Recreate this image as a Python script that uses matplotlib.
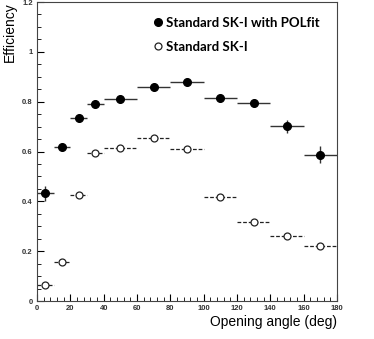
import numpy as np
import matplotlib.pyplot as plt
from matplotlib.lines import Line2D
from matplotlib.ticker import MultipleLocator

# angle bins (deg)
bin_lo = np.array([0, 10, 20, 30, 40, 60, 80, 100, 120, 140, 160])
bin_hi = np.array([10, 20, 30, 40, 60, 80, 100, 120, 140, 160, 180])

# Standard SK-I with POLfit
eff_pol = np.array([0.432, 0.618, 0.734, 0.790, 0.811, 0.858, 0.880, 0.814, 0.796, 0.701, 0.588])
err_pol = np.array([0.030, 0.008, 0.008, 0.010, 0.006, 0.006, 0.006, 0.008, 0.016, 0.026, 0.036])

# Standard SK-I
eff_std = np.array([0.064, 0.157, 0.426, 0.594, 0.616, 0.656, 0.609, 0.416, 0.316, 0.260, 0.221])

centers = (bin_lo + bin_hi) / 2
halfw = (bin_hi - bin_lo) / 2

plt.rcParams['font.family'] = 'Liberation Sans'

fig = plt.figure(figsize=(3.74, 3.39), dpi=100)
ax = fig.add_axes([0.099, 0.112, 0.802, 0.882])

# open points with dashed x-errors
eb = ax.errorbar(centers, eff_std, xerr=halfw, fmt='o', ms=5, mfc='white', mec='#222222',
                 mew=0.9, ecolor='#222222', elinewidth=0.9, capsize=0)
eb[2][0].set_linestyle((0, (3, 1.5)))

# filled points
ax.errorbar(centers, eff_pol, xerr=halfw, yerr=err_pol, fmt='o', ms=5.5, color='black',
            ecolor='#333333', elinewidth=1.0, capsize=0)

ax.set_xlim(0, 180)
ax.set_ylim(0, 1.2)
ax.xaxis.set_major_locator(MultipleLocator(20))
ax.xaxis.set_minor_locator(MultipleLocator(4))
ax.yaxis.set_minor_locator(MultipleLocator(0.05))
ax.set_yticks([0, 0.2, 0.4, 0.6, 0.8, 1, 1.2])
ax.set_yticklabels(['0', '0.2', '0.4', '0.6', '0.8', '1', '1.2'])
ax.tick_params(which='both', direction='in', top=False, right=False,
               labelsize=5.5, pad=3)
ax.tick_params(which='major', length=5, width=0.8)
ax.tick_params(which='minor', length=3, width=0.6)
for lab in ax.get_xticklabels() + ax.get_yticklabels():
    lab.set_fontweight('bold')
    lab.set_color('#333333')
for s in ax.spines.values():
    s.set_linewidth(0.8)
    s.set_color('#444444')

ax.set_xlabel('Opening angle (deg)', fontsize=10, loc='right', labelpad=2)
ax.set_ylabel('Efficiency', fontsize=10, loc='top', labelpad=4)

handles = [Line2D([], [], marker='o', ls='none', ms=5.5, color='black'),
           Line2D([], [], marker='o', ls='none', ms=5, mfc='white', mec='#222222', mew=0.9)]
ax.legend(handles, ['Standard SK-I with POLfit', 'Standard SK-I'], loc='upper left',
          bbox_to_anchor=(0.35, 0.99), frameon=False, handlelength=0.6, handletextpad=0.3,
          labelspacing=0.9, prop={'family': 'Lato', 'weight': 'bold', 'size': 9.5})

fig.savefig('out.png', dpi=100)
